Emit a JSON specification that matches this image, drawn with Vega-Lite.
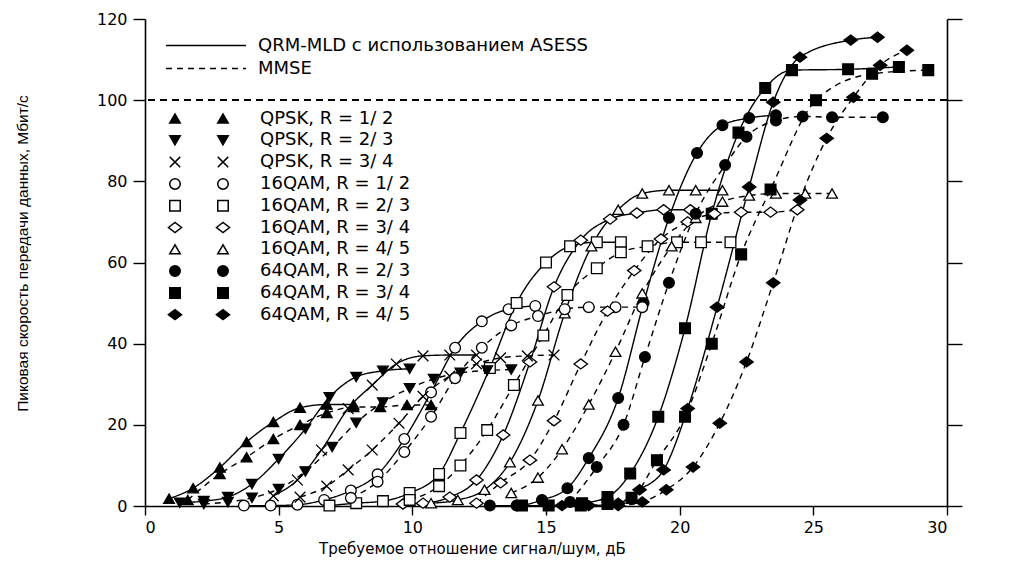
{
"$schema": "https://vega.github.io/schema/vega-lite/v6.json",
"width": 802, "height": 487,
"autosize": "none",
"padding": {"left": 145, "top": 19, "right": 64, "bottom": 63},
"background": "white",
"config": {
 "view": {"stroke": null},
 "axis": {"domainColor": "black", "tickColor": "black", "labelColor": "black", "titleColor": "black", "grid": false, "labelFont": "DejaVu Sans", "titleFont": "DejaVu Sans", "titleFontWeight": "normal", "domainWidth": 1.6, "tickWidth": 1.4},
 "legend": {"labelFont": "DejaVu Sans", "labelColor": "black", "labelLimit": 600}
},
"data": {"values": [
{"mod":"QPSK, R = 1/ 2","method":"QRM","snr":0.9,"rate":1.8},{"mod":"QPSK, R = 1/ 2","method":"QRM","snr":1.8,"rate":4.4},{"mod":"QPSK, R = 1/ 2","method":"QRM","snr":2.8,"rate":9.5},{"mod":"QPSK, R = 1/ 2","method":"QRM","snr":3.8,"rate":15.8},{"mod":"QPSK, R = 1/ 2","method":"QRM","snr":4.8,"rate":20.7},{"mod":"QPSK, R = 1/ 2","method":"QRM","snr":5.8,"rate":24.2},{"mod":"QPSK, R = 1/ 2","method":"QRM","snr":6.8,"rate":25.0},{"mod":"QPSK, R = 1/ 2","method":"QRM","snr":7.8,"rate":25.0},
{"mod":"QPSK, R = 1/ 2","method":"MMSE","snr":1.6,"rate":1.5},{"mod":"QPSK, R = 1/ 2","method":"MMSE","snr":2.8,"rate":7.9},{"mod":"QPSK, R = 1/ 2","method":"MMSE","snr":3.8,"rate":12.0},{"mod":"QPSK, R = 1/ 2","method":"MMSE","snr":4.8,"rate":16.5},{"mod":"QPSK, R = 1/ 2","method":"MMSE","snr":5.8,"rate":20.0},{"mod":"QPSK, R = 1/ 2","method":"MMSE","snr":6.8,"rate":22.9},{"mod":"QPSK, R = 1/ 2","method":"MMSE","snr":7.8,"rate":24.4},{"mod":"QPSK, R = 1/ 2","method":"MMSE","snr":8.8,"rate":24.4},{"mod":"QPSK, R = 1/ 2","method":"MMSE","snr":9.8,"rate":24.9},{"mod":"QPSK, R = 1/ 2","method":"MMSE","snr":10.7,"rate":24.9},
{"mod":"QPSK, R = 2/ 3","method":"QRM","snr":1.3,"rate":0.8},{"mod":"QPSK, R = 2/ 3","method":"QRM","snr":2.2,"rate":1.2},{"mod":"QPSK, R = 2/ 3","method":"QRM","snr":3.1,"rate":2.2},{"mod":"QPSK, R = 2/ 3","method":"QRM","snr":4.0,"rate":5.4},{"mod":"QPSK, R = 2/ 3","method":"QRM","snr":5.0,"rate":11.6},{"mod":"QPSK, R = 2/ 3","method":"QRM","snr":6.0,"rate":19.0},{"mod":"QPSK, R = 2/ 3","method":"QRM","snr":6.9,"rate":26.8},{"mod":"QPSK, R = 2/ 3","method":"QRM","snr":7.9,"rate":31.8},{"mod":"QPSK, R = 2/ 3","method":"QRM","snr":8.9,"rate":33.3},{"mod":"QPSK, R = 2/ 3","method":"QRM","snr":9.9,"rate":33.8},
{"mod":"QPSK, R = 2/ 3","method":"MMSE","snr":2.2,"rate":0.5},{"mod":"QPSK, R = 2/ 3","method":"MMSE","snr":3.1,"rate":1.0},{"mod":"QPSK, R = 2/ 3","method":"MMSE","snr":4.0,"rate":2.0},{"mod":"QPSK, R = 2/ 3","method":"MMSE","snr":5.0,"rate":4.2},{"mod":"QPSK, R = 2/ 3","method":"MMSE","snr":6.0,"rate":8.5},{"mod":"QPSK, R = 2/ 3","method":"MMSE","snr":7.0,"rate":14.5},{"mod":"QPSK, R = 2/ 3","method":"MMSE","snr":7.9,"rate":20.5},{"mod":"QPSK, R = 2/ 3","method":"MMSE","snr":8.9,"rate":25.5},{"mod":"QPSK, R = 2/ 3","method":"MMSE","snr":9.9,"rate":29.0},{"mod":"QPSK, R = 2/ 3","method":"MMSE","snr":10.8,"rate":31.3},{"mod":"QPSK, R = 2/ 3","method":"MMSE","snr":11.8,"rate":32.8},{"mod":"QPSK, R = 2/ 3","method":"MMSE","snr":12.8,"rate":33.4},{"mod":"QPSK, R = 2/ 3","method":"MMSE","snr":13.7,"rate":33.6},
{"mod":"QPSK, R = 3/ 4","method":"QRM","snr":4.8,"rate":2.5},{"mod":"QPSK, R = 3/ 4","method":"QRM","snr":5.7,"rate":6.4},{"mod":"QPSK, R = 3/ 4","method":"QRM","snr":6.6,"rate":13.8},{"mod":"QPSK, R = 3/ 4","method":"QRM","snr":7.6,"rate":24.0},{"mod":"QPSK, R = 3/ 4","method":"QRM","snr":8.5,"rate":29.8},{"mod":"QPSK, R = 3/ 4","method":"QRM","snr":9.4,"rate":35.0},{"mod":"QPSK, R = 3/ 4","method":"QRM","snr":10.4,"rate":37.0},{"mod":"QPSK, R = 3/ 4","method":"QRM","snr":11.4,"rate":37.2},{"mod":"QPSK, R = 3/ 4","method":"QRM","snr":12.4,"rate":37.2},
{"mod":"QPSK, R = 3/ 4","method":"MMSE","snr":5.8,"rate":2.2},{"mod":"QPSK, R = 3/ 4","method":"MMSE","snr":6.8,"rate":4.9},{"mod":"QPSK, R = 3/ 4","method":"MMSE","snr":7.6,"rate":8.9},{"mod":"QPSK, R = 3/ 4","method":"MMSE","snr":8.5,"rate":13.8},{"mod":"QPSK, R = 3/ 4","method":"MMSE","snr":9.5,"rate":20.4},{"mod":"QPSK, R = 3/ 4","method":"MMSE","snr":10.4,"rate":27.0},{"mod":"QPSK, R = 3/ 4","method":"MMSE","snr":11.4,"rate":32.0},{"mod":"QPSK, R = 3/ 4","method":"MMSE","snr":12.4,"rate":35.0},{"mod":"QPSK, R = 3/ 4","method":"MMSE","snr":13.3,"rate":36.5},{"mod":"QPSK, R = 3/ 4","method":"MMSE","snr":14.3,"rate":37.0},{"mod":"QPSK, R = 3/ 4","method":"MMSE","snr":15.3,"rate":37.2},
{"mod":"16QAM, R = 1/ 2","method":"QRM","snr":3.7,"rate":0.1},{"mod":"16QAM, R = 1/ 2","method":"QRM","snr":4.7,"rate":0.1},{"mod":"16QAM, R = 1/ 2","method":"QRM","snr":5.7,"rate":0.3},{"mod":"16QAM, R = 1/ 2","method":"QRM","snr":6.7,"rate":1.5},{"mod":"16QAM, R = 1/ 2","method":"QRM","snr":7.7,"rate":3.8},{"mod":"16QAM, R = 1/ 2","method":"QRM","snr":8.7,"rate":7.8},{"mod":"16QAM, R = 1/ 2","method":"QRM","snr":9.7,"rate":16.5},{"mod":"16QAM, R = 1/ 2","method":"QRM","snr":10.7,"rate":28.0},{"mod":"16QAM, R = 1/ 2","method":"QRM","snr":11.6,"rate":39.0},{"mod":"16QAM, R = 1/ 2","method":"QRM","snr":12.6,"rate":45.5},{"mod":"16QAM, R = 1/ 2","method":"QRM","snr":13.6,"rate":48.5},{"mod":"16QAM, R = 1/ 2","method":"QRM","snr":14.6,"rate":49.3},
{"mod":"16QAM, R = 1/ 2","method":"MMSE","snr":7.7,"rate":2.0},{"mod":"16QAM, R = 1/ 2","method":"MMSE","snr":8.7,"rate":6.0},{"mod":"16QAM, R = 1/ 2","method":"MMSE","snr":9.7,"rate":13.3},{"mod":"16QAM, R = 1/ 2","method":"MMSE","snr":10.7,"rate":22.0},{"mod":"16QAM, R = 1/ 2","method":"MMSE","snr":11.6,"rate":31.5},{"mod":"16QAM, R = 1/ 2","method":"MMSE","snr":12.6,"rate":39.0},{"mod":"16QAM, R = 1/ 2","method":"MMSE","snr":13.7,"rate":44.5},{"mod":"16QAM, R = 1/ 2","method":"MMSE","snr":14.7,"rate":46.8},{"mod":"16QAM, R = 1/ 2","method":"MMSE","snr":15.7,"rate":48.5},{"mod":"16QAM, R = 1/ 2","method":"MMSE","snr":16.6,"rate":49.0},{"mod":"16QAM, R = 1/ 2","method":"MMSE","snr":17.6,"rate":49.0},{"mod":"16QAM, R = 1/ 2","method":"MMSE","snr":18.6,"rate":49.0},
{"mod":"16QAM, R = 2/ 3","method":"QRM","snr":6.9,"rate":0.1},{"mod":"16QAM, R = 2/ 3","method":"QRM","snr":7.9,"rate":0.7},{"mod":"16QAM, R = 2/ 3","method":"QRM","snr":8.9,"rate":1.2},{"mod":"16QAM, R = 2/ 3","method":"QRM","snr":9.9,"rate":3.2},{"mod":"16QAM, R = 2/ 3","method":"QRM","snr":11.0,"rate":7.9},{"mod":"16QAM, R = 2/ 3","method":"QRM","snr":11.8,"rate":18.0},{"mod":"16QAM, R = 2/ 3","method":"QRM","snr":12.9,"rate":34.0},{"mod":"16QAM, R = 2/ 3","method":"QRM","snr":13.9,"rate":50.0},{"mod":"16QAM, R = 2/ 3","method":"QRM","snr":15.0,"rate":60.0},{"mod":"16QAM, R = 2/ 3","method":"QRM","snr":15.9,"rate":64.0},{"mod":"16QAM, R = 2/ 3","method":"QRM","snr":16.9,"rate":65.0},{"mod":"16QAM, R = 2/ 3","method":"QRM","snr":17.8,"rate":65.0},
{"mod":"16QAM, R = 2/ 3","method":"MMSE","snr":9.9,"rate":1.5},{"mod":"16QAM, R = 2/ 3","method":"MMSE","snr":11.0,"rate":4.9},{"mod":"16QAM, R = 2/ 3","method":"MMSE","snr":11.8,"rate":10.0},{"mod":"16QAM, R = 2/ 3","method":"MMSE","snr":12.8,"rate":18.7},{"mod":"16QAM, R = 2/ 3","method":"MMSE","snr":13.8,"rate":29.8},{"mod":"16QAM, R = 2/ 3","method":"MMSE","snr":14.9,"rate":42.0},{"mod":"16QAM, R = 2/ 3","method":"MMSE","snr":15.8,"rate":52.0},{"mod":"16QAM, R = 2/ 3","method":"MMSE","snr":16.9,"rate":58.6},{"mod":"16QAM, R = 2/ 3","method":"MMSE","snr":17.8,"rate":62.5},{"mod":"16QAM, R = 2/ 3","method":"MMSE","snr":18.8,"rate":64.0},{"mod":"16QAM, R = 2/ 3","method":"MMSE","snr":19.9,"rate":65.0},{"mod":"16QAM, R = 2/ 3","method":"MMSE","snr":20.8,"rate":65.0},{"mod":"16QAM, R = 2/ 3","method":"MMSE","snr":21.9,"rate":65.0},
{"mod":"16QAM, R = 3/ 4","method":"QRM","snr":9.65,"rate":0.5},{"mod":"16QAM, R = 3/ 4","method":"QRM","snr":10.4,"rate":0.7},{"mod":"16QAM, R = 3/ 4","method":"QRM","snr":11.4,"rate":2.2},{"mod":"16QAM, R = 3/ 4","method":"QRM","snr":12.4,"rate":6.4},{"mod":"16QAM, R = 3/ 4","method":"QRM","snr":13.4,"rate":17.5},{"mod":"16QAM, R = 3/ 4","method":"QRM","snr":14.4,"rate":35.5},{"mod":"16QAM, R = 3/ 4","method":"QRM","snr":15.3,"rate":54.0},{"mod":"16QAM, R = 3/ 4","method":"QRM","snr":16.3,"rate":65.5},{"mod":"16QAM, R = 3/ 4","method":"QRM","snr":17.4,"rate":70.7},{"mod":"16QAM, R = 3/ 4","method":"QRM","snr":18.4,"rate":72.2},{"mod":"16QAM, R = 3/ 4","method":"QRM","snr":19.4,"rate":73.0},{"mod":"16QAM, R = 3/ 4","method":"QRM","snr":20.4,"rate":73.0},
{"mod":"16QAM, R = 3/ 4","method":"MMSE","snr":12.4,"rate":0.7},{"mod":"16QAM, R = 3/ 4","method":"MMSE","snr":13.3,"rate":5.7},{"mod":"16QAM, R = 3/ 4","method":"MMSE","snr":14.4,"rate":11.3},{"mod":"16QAM, R = 3/ 4","method":"MMSE","snr":15.3,"rate":21.0},{"mod":"16QAM, R = 3/ 4","method":"MMSE","snr":16.3,"rate":35.0},{"mod":"16QAM, R = 3/ 4","method":"MMSE","snr":17.3,"rate":48.0},{"mod":"16QAM, R = 3/ 4","method":"MMSE","snr":18.3,"rate":58.0},{"mod":"16QAM, R = 3/ 4","method":"MMSE","snr":19.3,"rate":65.8},{"mod":"16QAM, R = 3/ 4","method":"MMSE","snr":20.3,"rate":70.0},{"mod":"16QAM, R = 3/ 4","method":"MMSE","snr":21.3,"rate":72.0},{"mod":"16QAM, R = 3/ 4","method":"MMSE","snr":22.3,"rate":72.4},{"mod":"16QAM, R = 3/ 4","method":"MMSE","snr":23.4,"rate":72.4},{"mod":"16QAM, R = 3/ 4","method":"MMSE","snr":24.4,"rate":73.0},
{"mod":"16QAM, R = 4/ 5","method":"QRM","snr":10.7,"rate":0.7},{"mod":"16QAM, R = 4/ 5","method":"QRM","snr":11.7,"rate":1.5},{"mod":"16QAM, R = 4/ 5","method":"QRM","snr":12.7,"rate":4.0},{"mod":"16QAM, R = 4/ 5","method":"QRM","snr":13.65,"rate":10.8},{"mod":"16QAM, R = 4/ 5","method":"QRM","snr":14.7,"rate":26.0},{"mod":"16QAM, R = 4/ 5","method":"QRM","snr":15.7,"rate":47.5},{"mod":"16QAM, R = 4/ 5","method":"QRM","snr":16.7,"rate":64.0},{"mod":"16QAM, R = 4/ 5","method":"QRM","snr":17.7,"rate":73.0},{"mod":"16QAM, R = 4/ 5","method":"QRM","snr":18.6,"rate":77.0},{"mod":"16QAM, R = 4/ 5","method":"QRM","snr":19.6,"rate":77.8},{"mod":"16QAM, R = 4/ 5","method":"QRM","snr":20.6,"rate":77.8},{"mod":"16QAM, R = 4/ 5","method":"QRM","snr":21.6,"rate":77.8},
{"mod":"16QAM, R = 4/ 5","method":"MMSE","snr":13.7,"rate":3.2},{"mod":"16QAM, R = 4/ 5","method":"MMSE","snr":14.7,"rate":7.0},{"mod":"16QAM, R = 4/ 5","method":"MMSE","snr":15.6,"rate":14.0},{"mod":"16QAM, R = 4/ 5","method":"MMSE","snr":16.6,"rate":25.0},{"mod":"16QAM, R = 4/ 5","method":"MMSE","snr":17.6,"rate":38.0},{"mod":"16QAM, R = 4/ 5","method":"MMSE","snr":18.6,"rate":52.4},{"mod":"16QAM, R = 4/ 5","method":"MMSE","snr":19.7,"rate":64.0},{"mod":"16QAM, R = 4/ 5","method":"MMSE","snr":20.6,"rate":71.0},{"mod":"16QAM, R = 4/ 5","method":"MMSE","snr":21.6,"rate":75.0},{"mod":"16QAM, R = 4/ 5","method":"MMSE","snr":22.6,"rate":76.5},{"mod":"16QAM, R = 4/ 5","method":"MMSE","snr":23.6,"rate":77.0},{"mod":"16QAM, R = 4/ 5","method":"MMSE","snr":24.7,"rate":77.0},{"mod":"16QAM, R = 4/ 5","method":"MMSE","snr":25.7,"rate":77.0},
{"mod":"64QAM, R = 2/ 3","method":"QRM","snr":12.9,"rate":0.1},{"mod":"64QAM, R = 2/ 3","method":"QRM","snr":13.9,"rate":0.1},{"mod":"64QAM, R = 2/ 3","method":"QRM","snr":14.85,"rate":1.5},{"mod":"64QAM, R = 2/ 3","method":"QRM","snr":15.8,"rate":4.4},{"mod":"64QAM, R = 2/ 3","method":"QRM","snr":16.6,"rate":11.8},{"mod":"64QAM, R = 2/ 3","method":"QRM","snr":17.7,"rate":26.6},{"mod":"64QAM, R = 2/ 3","method":"QRM","snr":18.65,"rate":50.0},{"mod":"64QAM, R = 2/ 3","method":"QRM","snr":19.6,"rate":71.0},{"mod":"64QAM, R = 2/ 3","method":"QRM","snr":20.65,"rate":87.0},{"mod":"64QAM, R = 2/ 3","method":"QRM","snr":21.6,"rate":93.8},{"mod":"64QAM, R = 2/ 3","method":"QRM","snr":22.6,"rate":95.6},{"mod":"64QAM, R = 2/ 3","method":"QRM","snr":23.6,"rate":96.3},
{"mod":"64QAM, R = 2/ 3","method":"MMSE","snr":15.9,"rate":1.0},{"mod":"64QAM, R = 2/ 3","method":"MMSE","snr":16.9,"rate":9.6},{"mod":"64QAM, R = 2/ 3","method":"MMSE","snr":17.9,"rate":20.0},{"mod":"64QAM, R = 2/ 3","method":"MMSE","snr":18.7,"rate":36.7},{"mod":"64QAM, R = 2/ 3","method":"MMSE","snr":19.6,"rate":55.0},{"mod":"64QAM, R = 2/ 3","method":"MMSE","snr":20.6,"rate":72.0},{"mod":"64QAM, R = 2/ 3","method":"MMSE","snr":21.7,"rate":84.0},{"mod":"64QAM, R = 2/ 3","method":"MMSE","snr":22.5,"rate":91.0},{"mod":"64QAM, R = 2/ 3","method":"MMSE","snr":23.6,"rate":95.0},{"mod":"64QAM, R = 2/ 3","method":"MMSE","snr":24.6,"rate":96.0},{"mod":"64QAM, R = 2/ 3","method":"MMSE","snr":25.7,"rate":95.8},{"mod":"64QAM, R = 2/ 3","method":"MMSE","snr":27.6,"rate":95.8},
{"mod":"64QAM, R = 3/ 4","method":"QRM","snr":14.1,"rate":0.1},{"mod":"64QAM, R = 3/ 4","method":"QRM","snr":15.1,"rate":0.1},{"mod":"64QAM, R = 3/ 4","method":"QRM","snr":16.35,"rate":0.7},{"mod":"64QAM, R = 3/ 4","method":"QRM","snr":17.3,"rate":2.2},{"mod":"64QAM, R = 3/ 4","method":"QRM","snr":18.15,"rate":8.0},{"mod":"64QAM, R = 3/ 4","method":"QRM","snr":19.2,"rate":22.0},{"mod":"64QAM, R = 3/ 4","method":"QRM","snr":20.2,"rate":43.8},{"mod":"64QAM, R = 3/ 4","method":"QRM","snr":21.2,"rate":72.0},{"mod":"64QAM, R = 3/ 4","method":"QRM","snr":22.2,"rate":92.0},{"mod":"64QAM, R = 3/ 4","method":"QRM","snr":23.2,"rate":103.0},{"mod":"64QAM, R = 3/ 4","method":"QRM","snr":24.2,"rate":107.4},{"mod":"64QAM, R = 3/ 4","method":"QRM","snr":26.3,"rate":107.6},{"mod":"64QAM, R = 3/ 4","method":"QRM","snr":28.2,"rate":108.2},
{"mod":"64QAM, R = 3/ 4","method":"MMSE","snr":16.3,"rate":0.1},{"mod":"64QAM, R = 3/ 4","method":"MMSE","snr":17.3,"rate":0.5},{"mod":"64QAM, R = 3/ 4","method":"MMSE","snr":18.2,"rate":2.0},{"mod":"64QAM, R = 3/ 4","method":"MMSE","snr":19.15,"rate":11.3},{"mod":"64QAM, R = 3/ 4","method":"MMSE","snr":20.2,"rate":22.0},{"mod":"64QAM, R = 3/ 4","method":"MMSE","snr":21.2,"rate":40.0},{"mod":"64QAM, R = 3/ 4","method":"MMSE","snr":22.3,"rate":62.0},{"mod":"64QAM, R = 3/ 4","method":"MMSE","snr":23.4,"rate":78.0},{"mod":"64QAM, R = 3/ 4","method":"MMSE","snr":25.1,"rate":100.0},{"mod":"64QAM, R = 3/ 4","method":"MMSE","snr":27.2,"rate":106.5},{"mod":"64QAM, R = 3/ 4","method":"MMSE","snr":29.3,"rate":107.4},
{"mod":"64QAM, R = 4/ 5","method":"QRM","snr":15.6,"rate":0.1},{"mod":"64QAM, R = 4/ 5","method":"QRM","snr":16.6,"rate":0.1},{"mod":"64QAM, R = 4/ 5","method":"QRM","snr":17.7,"rate":0.7},{"mod":"64QAM, R = 4/ 5","method":"QRM","snr":18.5,"rate":4.0},{"mod":"64QAM, R = 4/ 5","method":"QRM","snr":19.4,"rate":8.9},{"mod":"64QAM, R = 4/ 5","method":"QRM","snr":20.3,"rate":24.0},{"mod":"64QAM, R = 4/ 5","method":"QRM","snr":21.4,"rate":49.0},{"mod":"64QAM, R = 4/ 5","method":"QRM","snr":22.6,"rate":78.6},{"mod":"64QAM, R = 4/ 5","method":"QRM","snr":23.5,"rate":99.5},{"mod":"64QAM, R = 4/ 5","method":"QRM","snr":24.5,"rate":110.6},{"mod":"64QAM, R = 4/ 5","method":"QRM","snr":26.4,"rate":114.8},{"mod":"64QAM, R = 4/ 5","method":"QRM","snr":27.4,"rate":115.5},
{"mod":"64QAM, R = 4/ 5","method":"MMSE","snr":17.7,"rate":0.1},{"mod":"64QAM, R = 4/ 5","method":"MMSE","snr":18.6,"rate":1.0},{"mod":"64QAM, R = 4/ 5","method":"MMSE","snr":19.5,"rate":4.0},{"mod":"64QAM, R = 4/ 5","method":"MMSE","snr":20.5,"rate":9.6},{"mod":"64QAM, R = 4/ 5","method":"MMSE","snr":21.5,"rate":20.4},{"mod":"64QAM, R = 4/ 5","method":"MMSE","snr":22.5,"rate":35.5},{"mod":"64QAM, R = 4/ 5","method":"MMSE","snr":23.5,"rate":55.0},{"mod":"64QAM, R = 4/ 5","method":"MMSE","snr":24.5,"rate":75.4},{"mod":"64QAM, R = 4/ 5","method":"MMSE","snr":25.5,"rate":90.6},{"mod":"64QAM, R = 4/ 5","method":"MMSE","snr":26.5,"rate":100.7},{"mod":"64QAM, R = 4/ 5","method":"MMSE","snr":27.5,"rate":108.6},{"mod":"64QAM, R = 4/ 5","method":"MMSE","snr":28.5,"rate":112.3}
]},
"layer": [
 {
  "mark": {"type": "rule", "strokeDash": [7, 5], "strokeWidth": 1.3, "color": "black"},
  "encoding": {
   "y": {"datum": 100, "type": "quantitative", "scale": {"domain": [0, 120]},
    "axis": {"orient": "right", "values": [0, 20, 40, 60, 80, 100, 120], "labels": false, "tickSize": 15, "title": null}}
  }
 },
 {
  "mark": {"type": "line", "interpolate": "monotone", "strokeWidth": 1.4, "color": "black"},
  "encoding": {
   "x": {"field": "snr", "type": "quantitative", "scale": {"domain": [0, 30]},
    "axis": {"values": [0, 5, 10, 15, 20, 25, 30], "tickSize": 9, "labelPadding": 4, "labelFontSize": 16, "title": "Требуемое отношение сигнал/шум, дБ", "titleFontSize": 15, "titleX": 327, "titleY": 47, "titleBaseline": "alphabetic"}},
   "y": {"field": "rate", "type": "quantitative", "scale": {"domain": [0, 120]},
    "axis": {"orient": "left", "values": [0, 20, 40, 60, 80, 100, 120], "tickSize": 12, "labelPadding": 6, "labelFontSize": 16, "title": "Пиковая скорость передачи данных, Мбит/с", "titleFontSize": 15.5, "titleFont": "Liberation Sans", "titleX": -123, "titleY": 234, "titleBaseline": "middle"}},
   "detail": [{"field": "mod"}, {"field": "method"}],
   "strokeDash": {"field": "method", "type": "nominal",
    "scale": {"domain": ["QRM", "MMSE"], "range": [[1, 0], [6, 5]]},
    "legend": {"orient": "none", "legendX": 52, "legendY": 17.5, "title": null, "symbolType": "M-8,0L8,0", "symbolSize": 100, "symbolStrokeColor": "black", "symbolStrokeWidth": 1.4, "labelOffset": 43, "labelFontSize": 18, "rowPadding": 5,
     "labelExpr": "datum.label == 'QRM' ? 'QRM-MLD с использованием ASESS' : 'MMSE'"}}
  }
 },
 {
  "transform": [{"filter": "datum.method == 'QRM'"}],
  "mark": {"type": "point", "filled": true, "stroke": "black", "strokeWidth": 1.3, "size": 115, "opacity": 1},
  "encoding": {
   "x": {"field": "snr", "type": "quantitative"},
   "y": {"field": "rate", "type": "quantitative", "axis": null},
   "shape": {"field": "mod", "type": "nominal",
    "scale": {"domain": ["QPSK, R = 1/ 2","QPSK, R = 2/ 3","QPSK, R = 3/ 4","16QAM, R = 1/ 2","16QAM, R = 2/ 3","16QAM, R = 3/ 4","16QAM, R = 4/ 5","64QAM, R = 2/ 3","64QAM, R = 3/ 4","64QAM, R = 4/ 5"],
     "range": ["triangle-up","triangle-down","M-1,-1L1,1M-1,1L1,-1","circle","square","M-1.25,0L0,-0.95L1.25,0L0,0.95Z","triangle-up","circle","square","M-1.25,0L0,-0.95L1.25,0L0,0.95Z"]},
    "legend": {"orient": "none", "legendX": 21, "legendY": 90.5, "title": null, "symbolSize": 110, "labelFontSize": 18, "labelOpacity": 0, "labelExpr": "' '", "rowPadding": 3.8,
     "encode": {"symbols": {"update": {"stroke": {"value": "black"}, "strokeWidth": {"value": 1.3}}}}}},
   "fill": {"field": "mod", "type": "nominal",
    "scale": {"domain": ["QPSK, R = 1/ 2","QPSK, R = 2/ 3","QPSK, R = 3/ 4","16QAM, R = 1/ 2","16QAM, R = 2/ 3","16QAM, R = 3/ 4","16QAM, R = 4/ 5","64QAM, R = 2/ 3","64QAM, R = 3/ 4","64QAM, R = 4/ 5"],
     "range": ["black","black","black","white","white","white","white","black","black","black"]},
    "legend": {"orient": "none", "legendX": 21, "legendY": 90.5, "title": null, "symbolSize": 110, "labelFontSize": 18, "labelOpacity": 0, "labelExpr": "' '", "rowPadding": 3.8,
     "encode": {"symbols": {"update": {"stroke": {"value": "black"}, "strokeWidth": {"value": 1.3}}}}}}
  }
 },
 {
  "transform": [{"filter": "datum.method == 'MMSE'"}],
  "mark": {"type": "point", "filled": true, "stroke": "black", "strokeWidth": 1.3, "size": 115, "opacity": 1},
  "encoding": {
   "x": {"field": "snr", "type": "quantitative"},
   "y": {"field": "rate", "type": "quantitative", "axis": null},
   "shape": {"field": "mod", "type": "nominal",
    "scale": {"domain": ["QPSK, R = 1/ 2","QPSK, R = 2/ 3","QPSK, R = 3/ 4","16QAM, R = 1/ 2","16QAM, R = 2/ 3","16QAM, R = 3/ 4","16QAM, R = 4/ 5","64QAM, R = 2/ 3","64QAM, R = 3/ 4","64QAM, R = 4/ 5"],
     "range": ["triangle-up","triangle-down","M-1,-1L1,1M-1,1L1,-1","circle","square","M-1.25,0L0,-0.95L1.25,0L0,0.95Z","triangle-up","circle","square","M-1.25,0L0,-0.95L1.25,0L0,0.95Z"]},
    "legend": {"orient": "none", "legendX": 69, "legendY": 90.5, "title": null, "symbolSize": 110, "labelFontSize": 18, "labelOffset": 28, "rowPadding": 3.8,
     "encode": {"symbols": {"update": {"stroke": {"value": "black"}, "strokeWidth": {"value": 1.3}}}}}},
   "fill": {"field": "mod", "type": "nominal",
    "scale": {"domain": ["QPSK, R = 1/ 2","QPSK, R = 2/ 3","QPSK, R = 3/ 4","16QAM, R = 1/ 2","16QAM, R = 2/ 3","16QAM, R = 3/ 4","16QAM, R = 4/ 5","64QAM, R = 2/ 3","64QAM, R = 3/ 4","64QAM, R = 4/ 5"],
     "range": ["black","black","black","white","white","white","white","black","black","black"]},
    "legend": {"orient": "none", "legendX": 69, "legendY": 90.5, "title": null, "symbolSize": 110, "labelFontSize": 18, "labelOffset": 28, "rowPadding": 3.8,
     "encode": {"symbols": {"update": {"stroke": {"value": "black"}, "strokeWidth": {"value": 1.3}}}}}}
  }
 }
],
"resolve": {"scale": {"shape": "independent", "fill": "independent"}, "axis": {"y": "independent"}}
}
